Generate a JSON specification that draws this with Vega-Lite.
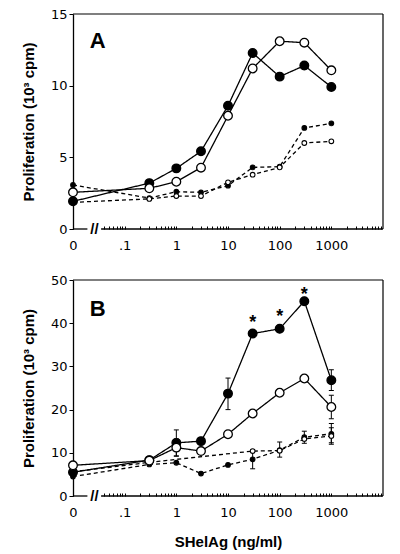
{
  "$schema": "https://vega.github.io/schema/vega-lite/v6.json",
  "background": "white",
  "padding": {"left": 21, "top": 8, "right": 5, "bottom": 5},
  "config": {
    "view": {"stroke": null},
    "axis": {"labelFont": "DejaVu Sans", "labelFontSize": 13, "labelColor": "black", "titleFont": "Liberation Sans", "titleFontSize": 15, "titleFontWeight": "bold", "titleColor": "black", "tickColor": "black", "grid": false, "domain": false},
    "axisY": {"domain": true, "domainColor": "black", "domainWidth": 1.3},
    "concat": {"spacing": 22}
  },
  "datasets": {
    "pts": [
      {"p":"A","s":"fs","dose":0.01,"value":1.93},{"p":"A","s":"fs","dose":0.3,"value":3.2},{"p":"A","s":"fs","dose":1,"value":4.23},{"p":"A","s":"fs","dose":3,"value":5.42},{"p":"A","s":"fs","dose":10,"value":8.6},{"p":"A","s":"fs","dose":30,"value":12.28},{"p":"A","s":"fs","dose":100,"value":10.63},{"p":"A","s":"fs","dose":300,"value":11.4},{"p":"A","s":"fs","dose":1000,"value":9.91},
      {"p":"A","s":"os","dose":0.01,"value":2.56},{"p":"A","s":"os","dose":0.3,"value":2.84},{"p":"A","s":"os","dose":1,"value":3.3},{"p":"A","s":"os","dose":3,"value":4.28},{"p":"A","s":"os","dose":10,"value":7.9},{"p":"A","s":"os","dose":30,"value":11.2},{"p":"A","s":"os","dose":100,"value":13.1},{"p":"A","s":"os","dose":300,"value":13.0},{"p":"A","s":"os","dose":1000,"value":11.07},
      {"p":"A","s":"fd","dose":0.01,"value":3.07},{"p":"A","s":"fd","dose":0.3,"value":2.16},{"p":"A","s":"fd","dose":1,"value":2.6},{"p":"A","s":"fd","dose":3,"value":2.56},{"p":"A","s":"fd","dose":10,"value":3.02},{"p":"A","s":"fd","dose":30,"value":4.3},{"p":"A","s":"fd","dose":100,"value":4.35},{"p":"A","s":"fd","dose":300,"value":7.05},{"p":"A","s":"fd","dose":1000,"value":7.37},
      {"p":"A","s":"od","dose":0.01,"value":1.86},{"p":"A","s":"od","dose":0.3,"value":2.1},{"p":"A","s":"od","dose":1,"value":2.3},{"p":"A","s":"od","dose":3,"value":2.3},{"p":"A","s":"od","dose":10,"value":3.26},{"p":"A","s":"od","dose":30,"value":3.79},{"p":"A","s":"od","dose":100,"value":4.3},{"p":"A","s":"od","dose":300,"value":6.0},{"p":"A","s":"od","dose":1000,"value":6.12},
      {"p":"B","s":"fs","dose":0.01,"value":5.5},{"p":"B","s":"fs","dose":0.3,"value":8.3},{"p":"B","s":"fs","dose":1,"value":12.3,"lo":9.3,"hi":15.3},{"p":"B","s":"fs","dose":3,"value":12.7},{"p":"B","s":"fs","dose":10,"value":23.7,"lo":20.0,"hi":27.3},{"p":"B","s":"fs","dose":30,"value":37.6},{"p":"B","s":"fs","dose":100,"value":38.7},{"p":"B","s":"fs","dose":300,"value":45.1},{"p":"B","s":"fs","dose":1000,"value":26.8,"lo":24.4,"hi":29.2},
      {"p":"B","s":"os","dose":0.01,"value":7.1},{"p":"B","s":"os","dose":0.3,"value":8.2},{"p":"B","s":"os","dose":1,"value":11.2,"lo":9.2,"hi":13.2},{"p":"B","s":"os","dose":3,"value":10.4},{"p":"B","s":"os","dose":10,"value":14.3},{"p":"B","s":"os","dose":30,"value":19.1},{"p":"B","s":"os","dose":100,"value":23.9},{"p":"B","s":"os","dose":300,"value":27.2},{"p":"B","s":"os","dose":1000,"value":20.6,"lo":17.9,"hi":23.3},
      {"p":"B","s":"fd","dose":0.01,"value":4.5},{"p":"B","s":"fd","dose":0.3,"value":7.3},{"p":"B","s":"fd","dose":1,"value":7.7},{"p":"B","s":"fd","dose":3,"value":5.2},{"p":"B","s":"fd","dose":10,"value":7.2},{"p":"B","s":"fd","dose":30,"value":8.5,"lo":6.3,"hi":10.7},{"p":"B","s":"fd","dose":100,"value":10.6,"lo":9.0,"hi":12.5},{"p":"B","s":"fd","dose":300,"value":13.6,"lo":12.2,"hi":15.0},{"p":"B","s":"fd","dose":1000,"value":14.4,"lo":12.3,"hi":16.8},
      {"p":"B","s":"od","dose":0.01,"value":5.6},{"p":"B","s":"od","dose":0.3,"value":7.8},{"p":"B","s":"od","dose":30,"value":10.4},{"p":"B","s":"od","dose":100,"value":10.5},{"p":"B","s":"od","dose":300,"value":13.2},{"p":"B","s":"od","dose":1000,"value":13.9,"lo":12.0,"hi":15.8}
    ],
    "stars": [
      {"p":"B","dose":30,"value":41.2},{"p":"B","dose":100,"value":42.6},{"p":"B","dose":300,"value":47.8}
    ],
    "annA": [{"p":"A","label":"A","lx":0.03,"ly":13.1,"xmin":0.01,"xmax":10000,"ymax":15,"bx":0.019,"bx2":0.035,"sx":0.026,"zero":0}],
    "annB": [{"p":"B","label":"B","lx":0.03,"ly":43.2,"xmin":0.01,"xmax":10000,"ymax":50,"bx":0.019,"bx2":0.035,"sx":0.026,"zero":0}]
  },
  "vconcat": [
    {
      "width": 310, "height": 215,
      "encoding": {
        "x": {"field": "dose", "type": "quantitative", "scale": {"type": "log", "domain": [0.01, 10000], "nice": false},
          "axis": {"title": null, "values": [0.01,0.04,0.05,0.06,0.07,0.08,0.09,0.1,0.2,0.3,0.4,0.5,0.6,0.7,0.8,0.9,1,2,3,4,5,6,7,8,9,10,20,30,40,50,60,70,80,90,100,200,300,400,500,600,700,800,900,1000,2000,3000,4000,5000,6000,7000,8000,9000],
            "labelExpr": "datum.value == 0.01 ? '0' : datum.value == 0.1 ? '.1' : datum.value == 1 ? '1' : datum.value == 10 ? '10' : datum.value == 100 ? '100' : datum.value == 1000 ? '1000' : ''",
            "tickSize": -3, "labelPadding": 13, "labelFlush": false, "labelOverlap": false, "labelBound": false}},
        "y": {"field": "value", "type": "quantitative", "scale": {"domain": [0, 15], "nice": false},
          "axis": {"title": "Proliferation (10³ cpm)", "values": [0, 5, 10, 15], "tickSize": 4, "labelPadding": 2, "titlePadding": 14}}
      },
      "layer": [
        {"data": {"name": "annA"}, "mark": {"type": "rule", "color": "black", "strokeWidth": 1.2},
          "encoding": {"x": {"field": "xmin", "type": "quantitative"}, "x2": {"field": "xmax"}, "y": {"field": "ymax", "type": "quantitative"}}},
        {"data": {"name": "annA"}, "mark": {"type": "rule", "color": "black", "strokeWidth": 1.2},
          "encoding": {"x": {"field": "xmax", "type": "quantitative"}, "y": {"field": "zero", "type": "quantitative"}, "y2": {"field": "ymax"}}},
        {"data": {"name": "annA"}, "mark": {"type": "rule", "color": "black", "strokeWidth": 1.3},
          "encoding": {"x": {"field": "xmin", "type": "quantitative"}, "x2": {"field": "bx"}, "y": {"field": "zero", "type": "quantitative"}}},
        {"data": {"name": "annA"}, "mark": {"type": "rule", "color": "black", "strokeWidth": 1.3},
          "encoding": {"x": {"field": "bx2", "type": "quantitative"}, "x2": {"field": "xmax"}, "y": {"field": "zero", "type": "quantitative"}}},
        {"data": {"name": "annA"}, "mark": {"type": "text", "text": "//", "font": "Liberation Sans", "fontSize": 15, "fontWeight": "bold", "baseline": "middle", "align": "center", "color": "black"},
          "encoding": {"x": {"field": "sx", "type": "quantitative"}, "y": {"field": "zero", "type": "quantitative"}}},
        {"data": {"name": "pts"}, "transform": [{"filter": "datum.p == 'A'"}],
          "mark": {"type": "line", "color": "black", "strokeWidth": 1.3},
          "encoding": {"detail": {"field": "s"}, "strokeDash": {"field": "s", "type": "nominal", "scale": {"domain": ["fs","os","fd","od"], "range": [[1,0],[1,0],[4,3],[4,3]]}, "legend": null}}},
        {"data": {"name": "pts"}, "transform": [{"filter": "datum.p == 'A' && (datum.s == 'fd' || datum.s == 'od')"}],
          "mark": {"type": "circle", "size": 22, "stroke": "black", "strokeWidth": 1.1, "opacity": 1},
          "encoding": {"fill": {"field": "s", "type": "nominal", "scale": {"domain": ["fs","os","fd","od"], "range": ["black","white","black","white"]}, "legend": null}}},
        {"data": {"name": "pts"}, "transform": [{"filter": "datum.p == 'A' && (datum.s == 'fs' || datum.s == 'os')"}],
          "mark": {"type": "circle", "size": 75, "stroke": "black", "strokeWidth": 1.3, "opacity": 1},
          "encoding": {"fill": {"field": "s", "type": "nominal", "scale": {"domain": ["fs","os","fd","od"], "range": ["black","white","black","white"]}, "legend": null}}},
        {"data": {"name": "annA"}, "mark": {"type": "text", "font": "Liberation Sans", "fontSize": 22, "fontWeight": "bold", "baseline": "middle", "align": "center", "color": "black"},
          "encoding": {"x": {"field": "lx", "type": "quantitative"}, "y": {"field": "ly", "type": "quantitative"}, "text": {"field": "label"}}}
      ]
    },
    {
      "width": 310, "height": 216,
      "encoding": {
        "x": {"field": "dose", "type": "quantitative", "scale": {"type": "log", "domain": [0.01, 10000], "nice": false},
          "axis": {"title": "SHelAg (ng/ml)", "titlePadding": 15, "values": [0.01,0.04,0.05,0.06,0.07,0.08,0.09,0.1,0.2,0.3,0.4,0.5,0.6,0.7,0.8,0.9,1,2,3,4,5,6,7,8,9,10,20,30,40,50,60,70,80,90,100,200,300,400,500,600,700,800,900,1000,2000,3000,4000,5000,6000,7000,8000,9000],
            "labelExpr": "datum.value == 0.01 ? '0' : datum.value == 0.1 ? '.1' : datum.value == 1 ? '1' : datum.value == 10 ? '10' : datum.value == 100 ? '100' : datum.value == 1000 ? '1000' : ''",
            "tickSize": -3, "labelPadding": 13, "labelFlush": false, "labelOverlap": false, "labelBound": false}},
        "y": {"field": "value", "type": "quantitative", "scale": {"domain": [0, 50], "nice": false},
          "axis": {"title": "Proliferation (10³ cpm)", "values": [0, 10, 20, 30, 40, 50], "tickSize": 4, "labelPadding": 2, "titlePadding": 14}}
      },
      "layer": [
        {"data": {"name": "annB"}, "mark": {"type": "rule", "color": "black", "strokeWidth": 1.2},
          "encoding": {"x": {"field": "xmin", "type": "quantitative"}, "x2": {"field": "xmax"}, "y": {"field": "ymax", "type": "quantitative"}}},
        {"data": {"name": "annB"}, "mark": {"type": "rule", "color": "black", "strokeWidth": 1.2},
          "encoding": {"x": {"field": "xmax", "type": "quantitative"}, "y": {"field": "zero", "type": "quantitative"}, "y2": {"field": "ymax"}}},
        {"data": {"name": "annB"}, "mark": {"type": "rule", "color": "black", "strokeWidth": 1.3},
          "encoding": {"x": {"field": "xmin", "type": "quantitative"}, "x2": {"field": "bx"}, "y": {"field": "zero", "type": "quantitative"}}},
        {"data": {"name": "annB"}, "mark": {"type": "rule", "color": "black", "strokeWidth": 1.3},
          "encoding": {"x": {"field": "bx2", "type": "quantitative"}, "x2": {"field": "xmax"}, "y": {"field": "zero", "type": "quantitative"}}},
        {"data": {"name": "annB"}, "mark": {"type": "text", "text": "//", "font": "Liberation Sans", "fontSize": 15, "fontWeight": "bold", "baseline": "middle", "align": "center", "color": "black"},
          "encoding": {"x": {"field": "sx", "type": "quantitative"}, "y": {"field": "zero", "type": "quantitative"}}},
        {"data": {"name": "pts"}, "transform": [{"filter": "datum.p == 'B' && isValid(datum.lo)"}], "mark": {"type": "rule", "color": "black", "strokeWidth": 1},
          "encoding": {"y": {"field": "lo", "type": "quantitative"}, "y2": {"field": "hi"}}},
        {"data": {"name": "pts"}, "transform": [{"filter": "datum.p == 'B' && isValid(datum.lo)"}], "mark": {"type": "tick", "orient": "horizontal", "color": "black", "size": 5, "thickness": 1, "opacity": 1},
          "encoding": {"y": {"field": "lo", "type": "quantitative"}}},
        {"data": {"name": "pts"}, "transform": [{"filter": "datum.p == 'B' && isValid(datum.hi)"}], "mark": {"type": "tick", "orient": "horizontal", "color": "black", "size": 5, "thickness": 1, "opacity": 1},
          "encoding": {"y": {"field": "hi", "type": "quantitative"}}},
        {"data": {"name": "pts"}, "transform": [{"filter": "datum.p == 'B'"}],
          "mark": {"type": "line", "color": "black", "strokeWidth": 1.3},
          "encoding": {"detail": {"field": "s"}, "strokeDash": {"field": "s", "type": "nominal", "scale": {"domain": ["fs","os","fd","od"], "range": [[1,0],[1,0],[4,3],[4,3]]}, "legend": null}}},
        {"data": {"name": "pts"}, "transform": [{"filter": "datum.p == 'B' && (datum.s == 'fd' || datum.s == 'od')"}],
          "mark": {"type": "circle", "size": 22, "stroke": "black", "strokeWidth": 1.1, "opacity": 1},
          "encoding": {"fill": {"field": "s", "type": "nominal", "scale": {"domain": ["fs","os","fd","od"], "range": ["black","white","black","white"]}, "legend": null}}},
        {"data": {"name": "pts"}, "transform": [{"filter": "datum.p == 'B' && (datum.s == 'fs' || datum.s == 'os')"}],
          "mark": {"type": "circle", "size": 75, "stroke": "black", "strokeWidth": 1.3, "opacity": 1},
          "encoding": {"fill": {"field": "s", "type": "nominal", "scale": {"domain": ["fs","os","fd","od"], "range": ["black","white","black","white"]}, "legend": null}}},
        {"data": {"name": "stars"}, "mark": {"type": "text", "text": "*", "font": "Liberation Sans", "fontSize": 18, "fontWeight": "bold", "baseline": "alphabetic", "align": "center", "dy": 10, "color": "black"},
          "encoding": {"x": {"field": "dose", "type": "quantitative"}, "y": {"field": "value", "type": "quantitative"}}},
        {"data": {"name": "annB"}, "mark": {"type": "text", "font": "Liberation Sans", "fontSize": 22, "fontWeight": "bold", "baseline": "middle", "align": "center", "color": "black"},
          "encoding": {"x": {"field": "lx", "type": "quantitative"}, "y": {"field": "ly", "type": "quantitative"}, "text": {"field": "label"}}}
      ]
    }
  ]
}
